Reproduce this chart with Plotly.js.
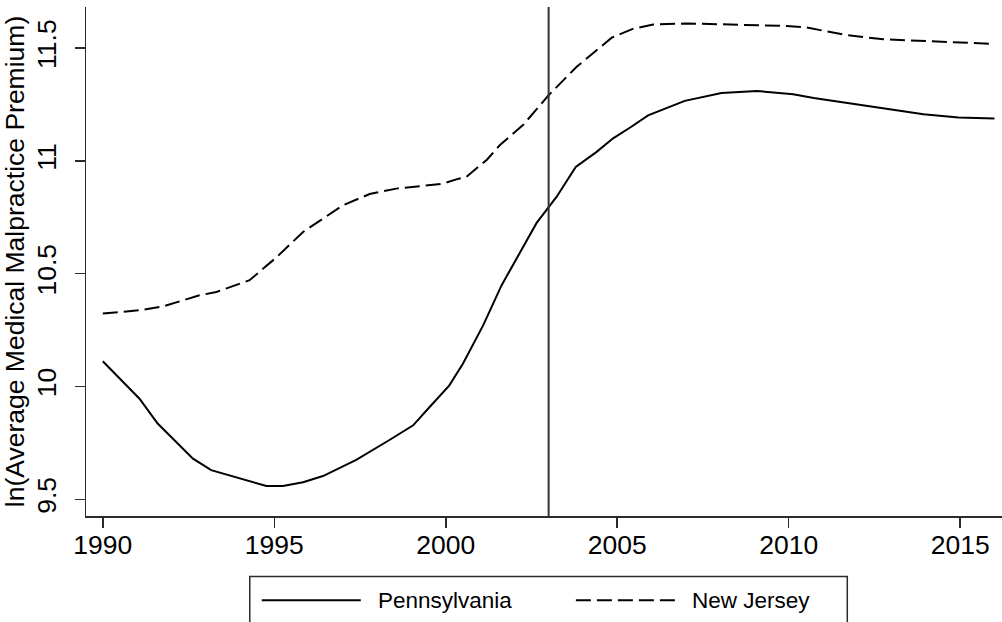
<!DOCTYPE html>
<html>
<head>
<meta charset="utf-8">
<script src="https://cdn.plot.ly/plotly-3.0.1.min.js"></script>
<style>
  html, body { margin: 0; padding: 0; background: #fff; }
  #chart { width: 1002px; height: 622px; }
</style>
</head>
<body>
<div id="chart"></div>
<script>
// ---- Data ----
const paYears = [1990, 1991.07, 1991.6, 1992.63, 1993.16, 1994.77, 1995.25, 1995.84, 1996.42, 1997.39,
  1998.37, 1999.05, 1999.53, 2000.1, 2000.5, 2001.09, 2001.63, 2002.65, 2003.23, 2003.79,
  2004.4, 2004.88, 2005.4, 2005.9, 2006.97, 2008.04, 2009.07, 2010.13, 2010.73, 2012.86,
  2013.93, 2014.95, 2016];
const paValues = [10.112, 9.946, 9.836, 9.680, 9.629, 9.559, 9.559, 9.576, 9.603, 9.675,
  9.764, 9.828, 9.909, 10.004, 10.101, 10.271, 10.449, 10.725, 10.840, 10.973,
  11.040, 11.100, 11.150, 11.202, 11.266, 11.301, 11.310, 11.295, 11.279, 11.229,
  11.207, 11.192, 11.188];

const njYears = [1990, 1991.07, 1991.75, 1992.82, 1993.31, 1994.28, 1995.06, 1995.84, 1997.0, 1997.78,
  1998.56, 1999.92, 2000.31, 2000.6, 2001.2, 2001.58, 2002.26, 2003.0, 2003.81, 2004.84,
  2005.47, 2006.05, 2007.02, 2008.97, 2009.94, 2010.53, 2011.69, 2012.76, 2014.12, 2016];
const njValues = [10.323, 10.338, 10.355, 10.404, 10.419, 10.471, 10.572, 10.685, 10.803, 10.853,
  10.877, 10.899, 10.918, 10.929, 11.005, 11.070, 11.160, 11.291, 11.416, 11.546,
  11.586, 11.604, 11.609, 11.601, 11.598, 11.591, 11.557, 11.539, 11.530, 11.518];

const seriesNames = ["Pennsylvania", "New Jersey"];
const treatmentYear = 2003;
const xTickVals = [1990, 1995, 2000, 2005, 2010, 2015];
const yTickVals = [9.5, 10, 10.5, 11, 11.5];
const yTickText = ["9.5", "10", "10.5", "11", "11.5"];
const yTitle = "ln(Average Medical Malpractice Premium)";

// ---- Chart ----
const FONT = "Liberation Sans, Arial, Helvetica, sans-serif";
const AXIS_COLOR = "#2b2b2b";
const DASH = "15px,6px";
const X_RANGE = [1989.51, 2016.22];

const traces = [
  { x: paYears, y: paValues, name: seriesNames[0], type: "scatter", mode: "lines",
    line: { color: "#000", width: 2 }, showlegend: false, hoverinfo: "x+y" },
  { x: njYears, y: njValues, name: seriesNames[1], type: "scatter", mode: "lines",
    line: { color: "#000", width: 2, dash: DASH }, showlegend: false, hoverinfo: "x+y" }
];

// legend geometry in paper coordinates
const legTop = -0.119, legRowY = -0.1656;
const shapes = [
  { type: "line", xref: "x", yref: "paper", x0: treatmentYear, x1: treatmentYear, y0: 0, y1: 1,
    line: { color: "#333", width: 2 } },
  { type: "rect", xref: "paper", yref: "paper", x0: 0.1788, x1: 0.8311, y0: -0.3, y1: legTop,
    line: { color: AXIS_COLOR, width: 1.5 }, fillcolor: "rgba(0,0,0,0)" },
  { type: "line", xref: "paper", yref: "paper", x0: 0.1919, x1: 0.3000, y0: legRowY, y1: legRowY,
    line: { color: "#000", width: 2 } },
  { type: "line", xref: "paper", yref: "paper", x0: 0.5348, x1: 0.6429, y0: legRowY, y1: legRowY,
    line: { color: "#000", width: 2, dash: DASH } }
];

const annotations = [
  { xref: "paper", yref: "paper", x: 0.3165, y: legRowY, xanchor: "left", yanchor: "middle",
    text: seriesNames[0], showarrow: false, font: { family: FONT, size: 22.5, color: "#000" } },
  { xref: "paper", yref: "paper", x: 0.6594, y: legRowY, xanchor: "left", yanchor: "middle",
    text: seriesNames[1], showarrow: false, font: { family: FONT, size: 22.5, color: "#000" } }
];

const layout = {
  width: 1002, height: 622,
  margin: { l: 86, r: 0, t: 7, b: 106, pad: 0 },
  paper_bgcolor: "#fff", plot_bgcolor: "#fff",
  font: { family: FONT, color: "#000" },
  showlegend: false,
  // main x axis: line and tick marks
  xaxis: {
    range: X_RANGE, tickmode: "array", tickvals: xTickVals,
    showline: true, linecolor: AXIS_COLOR, linewidth: 1.5,
    ticks: "outside", ticklen: 10, tickwidth: 1.5, tickcolor: AXIS_COLOR,
    showgrid: false, zeroline: false, showticklabels: false
  },
  // overlay x axis carrying the tick labels (slightly closer to the axis line)
  xaxis2: {
    overlaying: "x", anchor: "y", side: "bottom", range: X_RANGE,
    tickmode: "array", tickvals: xTickVals,
    showline: false, ticks: "outside", ticklen: 5, tickcolor: "rgba(0,0,0,0)",
    showgrid: false, zeroline: false,
    tickfont: { family: FONT, size: 26.5, color: "#000" }
  },
  yaxis: {
    range: [9.426, 11.682], tickmode: "array", tickvals: yTickVals, ticktext: yTickText,
    tickangle: -90, ticklabelstandoff: 8,
    showline: true, linecolor: AXIS_COLOR, linewidth: 1.5,
    ticks: "outside", ticklen: 10, tickwidth: 1.5, tickcolor: AXIS_COLOR,
    showgrid: false, zeroline: false,
    tickfont: { family: FONT, size: 26.5, color: "#000" },
    title: { text: yTitle, font: { family: FONT, size: 26.5, color: "#000" }, standoff: 0 }
  },
  shapes: shapes,
  annotations: annotations
};

// an invisible trace so the label axis is drawn
traces.push({ x: [xTickVals[0]], y: [yTickVals[0]], xaxis: "x2", yaxis: "y", type: "scatter",
  mode: "markers", marker: { opacity: 0 }, showlegend: false, hoverinfo: "skip" });

Plotly.newPlot("chart", traces, layout, { staticPlot: true, displayModeBar: false });
</script>
</body>
</html>
